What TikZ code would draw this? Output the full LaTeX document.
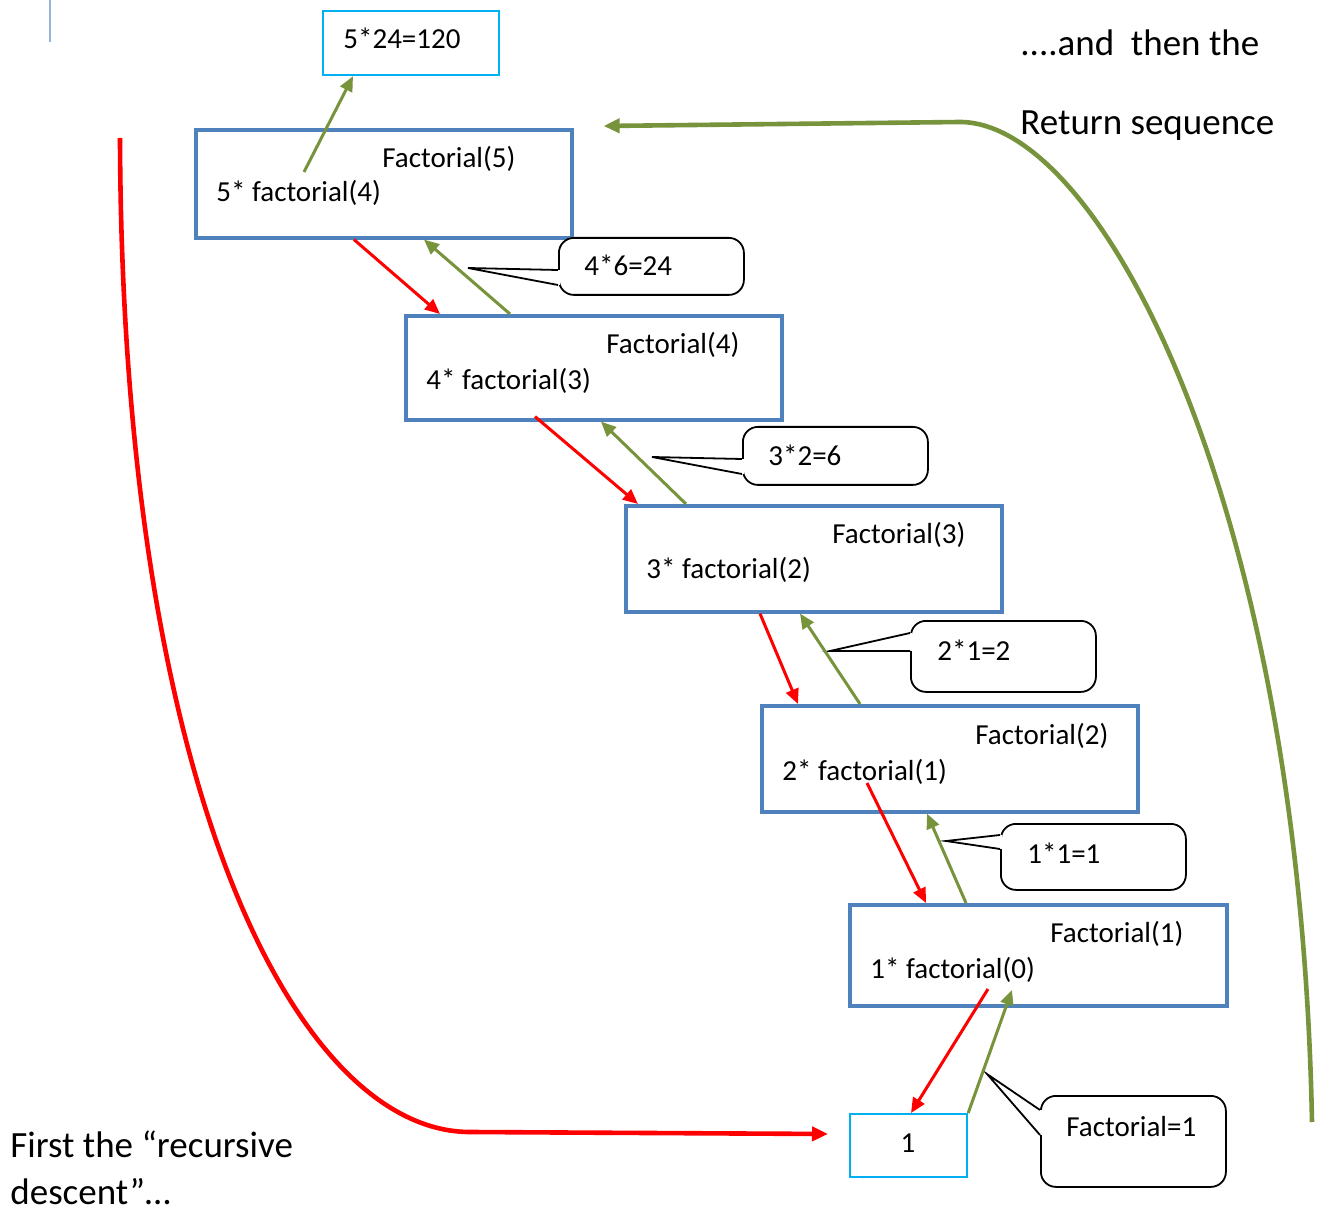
\documentclass[tikz,border=0pt]{standalone}
\usepackage{fontspec}
\setmainfont{Carlito}
\usetikzlibrary{arrows.meta,calc}
\definecolor{boxblue}{HTML}{4F81BD}
\definecolor{rescyan}{HTML}{00B0F0}
\definecolor{callred}{HTML}{FF0000}
\definecolor{retgreen}{HTML}{77933C}

\begin{document}
\begin{tikzpicture}[x=0.5pt,y=-0.5pt,
  frame/.style={draw=boxblue,line width=1.8pt,inner sep=0pt,anchor=north west,minimum width=188pt},
  result/.style={draw=rescyan,line width=1.1pt,inner sep=0pt,anchor=north west},
  bubble/.style={draw=black,line width=0.9pt,rounded corners=7.5pt,fill=white,inner sep=0pt,anchor=north west,minimum width=92.5pt},
  wedge/.style={draw=black,line width=0.9pt,line join=miter},
  txt/.style={inner sep=0pt,anchor=base west,font=\fontsize{14.5pt}{17pt}\selectfont},
  big/.style={inner sep=0pt,anchor=base west,font=\fontsize{18.5pt}{22pt}\selectfont},
  callarrow/.style={draw=callred,line width=1.5pt,-{Triangle[length=7.5pt,width=6.5pt]}},
  retarrow/.style={draw=retgreen,line width=1.5pt,-{Triangle[length=7.5pt,width=6.5pt]}},
]
\fill[white] (0,0) rectangle (1319,1214);
\useasboundingbox (0,0) rectangle (1319,1214);

% small margin mark
\draw[boxblue!60,line width=0.6pt] (50,0) -- (50,42);

% call frames
\node[frame,minimum height=54pt]   (f5) at (194,128) {};
\node[frame,minimum height=52pt]   (f4) at (404,314) {};
\node[frame,minimum height=53pt]   (f3) at (624,504) {};
\node[frame,minimum height=53pt]   (f2) at (760,704) {};
\node[frame,minimum height=50.5pt,minimum width=188.5pt] (f1) at (848,903) {};

% results
\node[result,minimum width=88pt,minimum height=32pt]   (top) at (322,10) {};
\node[result,minimum width=58.5pt,minimum height=31.5pt] (b0) at (849,1113) {};

% frame texts
\node[txt] (f5a) at (382,168) {Factorial(5)};
\node[txt] (f5b) at (216,202) {5* factorial(4)};
\node[txt] (f4a) at (606,354) {Factorial(4)};
\node[txt] (f4b) at (426,390) {4* factorial(3)};
\node[txt] (f3a) at (832,544) {Factorial(3)};
\node[txt] (f3b) at (646,579) {3* factorial(2)};
\node[txt] (f2a) at (975,744) {Factorial(2)};
\node[txt] (f2b) at (782,780) {2* factorial(1)};
\node[txt] (f1a) at (1050,942) {Factorial(1)};
\node[txt] (f1b) at (870,978) {1* factorial(0)};
\node[txt] (topt) at (343,49) {5*24=120};
\node[txt,anchor=base] (b0t) at (908,1152) {1};

% callouts
\coordinate (tip4) at (468,268);
\coordinate (tip3) at (652,457);
\coordinate (tip2) at (830,651);
\coordinate (tip1) at (946,841);
\coordinate (tip0) at (987,1074);

\node[bubble,minimum height=28.5pt] (c4) at (558,237) {};
\fill[white] ([shift={(-2,33)}]c4.north west) rectangle ([shift={(2,48)}]c4.north west);
\draw[wedge] ([shift={(0,33)}]c4.north west) -- (tip4) -- ([shift={(0,48)}]c4.north west);

\node[bubble,minimum height=29pt] (c3) at (742,426) {};
\fill[white] ([shift={(-2,33)}]c3.north west) rectangle ([shift={(2,48)}]c3.north west);
\draw[wedge] ([shift={(0,33)}]c3.north west) -- (tip3) -- ([shift={(0,48)}]c3.north west);

\node[bubble,minimum height=35.5pt] (c2) at (910,620) {};
\fill[white] ([shift={(-2,13)}]c2.north west) rectangle ([shift={(2,31)}]c2.north west);
\draw[wedge] ([shift={(0,13)}]c2.north west) -- (tip2) -- ([shift={(0,31)}]c2.north west);

\node[bubble,minimum height=33pt] (c1) at (1000,823) {};
\fill[white] ([shift={(-2,12)}]c1.north west) rectangle ([shift={(2,26)}]c1.north west);
\draw[wedge] ([shift={(0,12)}]c1.north west) -- (tip1) -- ([shift={(0,26)}]c1.north west);

\node[bubble,minimum height=45.5pt] (c0) at (1040,1095) {};
\fill[white] ([shift={(-2,15)}]c0.north west) rectangle ([shift={(2,40)}]c0.north west);
\draw[wedge] ([shift={(0,15)}]c0.north west) -- (tip0) -- ([shift={(0,40)}]c0.north west);

\node[txt] (c4t) at (584,276) {4*6=24};
\node[txt] (c3t) at (768,466) {3*2=6};
\node[txt] (c2t) at (937,661) {2*1=2};
\node[txt] (c1t) at (1027,863) {1*1=1};
\node[txt] (c0t) at (1066,1136) {Factorial=1};

% calls (red) and returns (green)
\draw[retarrow] ([shift={(110,44)}]f5.north west) -- ([shift={(31,0)}]top.south west);
\draw[callarrow] ([shift={(160,0)}]f5.south west) -- ([shift={(36,0)}]f4.north west);
\draw[retarrow] ([shift={(106,0)}]f4.north west) -- ([shift={(230,0)}]f5.south west);
\draw[callarrow] ([shift={(131,-5)}]f4.south west) -- ([shift={(14,0)}]f3.north west);
\draw[retarrow] ([shift={(62,0)}]f3.north west) -- ([shift={(197,0)}]f4.south west);
\draw[callarrow] ([shift={(136,0)}]f3.south west) -- ([shift={(38,0)}]f2.north west);
\draw[retarrow] ([shift={(100,0)}]f2.north west) -- ([shift={(176,0)}]f3.south west);
\draw[callarrow] ([shift={(107,79)}]f2.north west) -- ([shift={(78,0)}]f1.north west);
\draw[retarrow] ([shift={(118,0)}]f1.north west) -- ([shift={(167,0)}]f2.south west);
\draw[callarrow] ([shift={(140,86)}]f1.north west) -- ([shift={(62,0)}]b0.north west);
\draw[retarrow] (b0.north east) -- ([shift={(164,87)}]f1.north west);

% overall descent and return
\coordinate (descentstart) at (120,138);
\coordinate (returnstart) at (1312,1122);
\draw[callred,line width=2.3pt,-{Triangle[length=8pt,width=7pt]}]
  (descentstart) .. controls (122,800) and (300,1132) .. (470,1132)
  -- ([shift={(-21,21)}]b0.north west);
\draw[retgreen,line width=2.3pt,-{Triangle[length=8pt,width=7pt]}]
  (returnstart) .. controls (1300,500) and (1100,122) .. (960,122)
  -- ([shift={(30,-2)}]f5.north east);

% captions
\node[big] (cap1) at (1020,56) {....and\ \ then the};
\node[big] (cap2) at (1020,135) {Return sequence};
\node[big] (cap3) at (10,1157) {First the “recursive};
\node[big] (cap4) at (10,1204) {descent”…};
\end{tikzpicture}
\end{document}
